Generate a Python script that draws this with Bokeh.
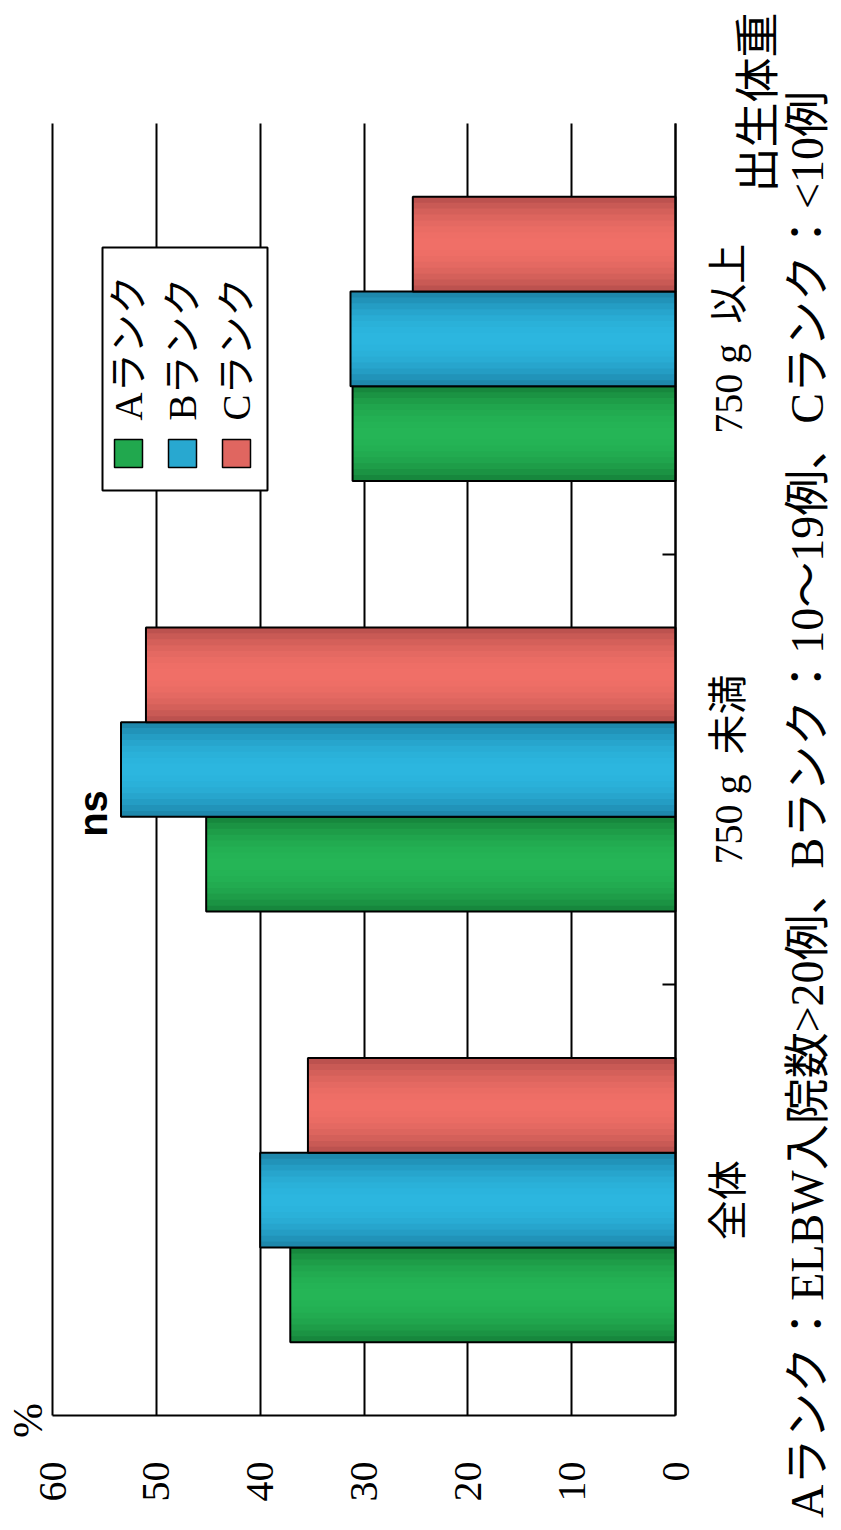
import math
from bokeh.plotting import figure
from bokeh.models import Range1d, FixedTicker, Label, BoxAnnotation, ColumnDataSource
from bokeh.core.properties import value
from bokeh.embed import file_html
from bokeh.resources import INLINE

# ---- data ----
categories = ["全体", "750 g\u2002未満", "750 g\u2002以上"]
series_names = ["Aランク", "Bランク", "Cランク"]
rank_a = [37.1, 45.2, 31.1]
rank_b = [40.0, 53.4, 31.3]
rank_c = [35.4, 51.0, 25.3]
value_ticks = [0, 10, 20, 30, 40, 50, 60]
axis_title = "出生体重"
unit_label = "%"
sig_label = "ns"
footnote = "Aランク：ELBW入院数>20例、Bランク：10〜19例、Cランク：<10例"

# ---- styles / layout ----
SERIF = "'Liberation Serif', 'Noto Sans CJK JP'"
CJK = "Noto Sans CJK JP"
colors = {
    "A": ("#157f38", "#25b556"),
    "B": ("#1b7fa3", "#2cb6df"),
    "C": ("#b24d4a", "#f06f67"),
}
bar_h = 0.22
offsets = [-bar_h, 0.0, bar_h]
W, H = 841, 1530
# pixel frame of the value axis (0 .. 60) and category band (0 .. n)
PX0, PX60 = 675, 52
PY0, PYTOP = 1415, 123
vmax = value_ticks[-1]
ncat = len(categories)
kx = (PX0 - PX60) / vmax          # px per value unit
ky = (PY0 - PYTOP) / ncat         # px per category unit


def dx(px):
    return (PX0 - px) / kx


def dy(py):
    return (PY0 - py) / ky


def mix(c1, c2, t):
    a = [int(c1[i:i + 2], 16) for i in (1, 3, 5)]
    b = [int(c2[i:i + 2], 16) for i in (1, 3, 5)]
    return "#" + "".join(f"{round(x + (y - x) * t):02x}" for x, y in zip(a, b))


p = figure(width=W, height=H, output_backend="svg", toolbar_location=None,
           x_range=Range1d(dx(0), dx(W)), y_range=Range1d(dy(H), dy(0)),
           y_axis_location="right",
           min_border_left=0, min_border_right=0, min_border_top=0, min_border_bottom=0)
p.outline_line_color = None
p.background_fill_color = "white"
p.border_fill_color = "white"
p.xgrid.visible = False
p.ygrid.visible = False

cat_pos = [i + 0.5 for i in range(ncat)]

n_layers = 8
for vals, key, off in zip([rank_a, rank_b, rank_c], ["A", "B", "C"], offsets):
    ys = [c + off for c in cat_pos]
    edge, light = colors[key]
    for k in range(n_layers):
        frac = 1.0 - k / n_layers
        t = math.sin((k + 0.5) / n_layers * math.pi / 2) ** 0.8
        p.hbar(y=ys, left=0, right=vals, height=bar_h * frac,
               fill_color=mix(edge, light, t), line_color=None)
    p.hbar(y=ys, left=0, right=vals, height=bar_h, fill_color=None,
           line_color="black", line_width=2)

# value axis along the bottom of the bars; its ticks, run upward, are the grid
xa = p.xaxis[0]
xa.fixed_location = 0
xa.bounds = (0, vmax)
xa.level = "underlay"
xa.ticker = FixedTicker(ticks=value_ticks)
xa.major_label_orientation = math.pi / 2
xa.major_label_text_font = SERIF
xa.major_label_text_font_size = "40px"
xa.major_label_text_color = "black"
xa.major_label_standoff = 46
xa.major_tick_in = PY0 - PYTOP
xa.major_tick_out = 0
xa.major_tick_line_color = "black"
xa.major_tick_line_width = 2
xa.minor_tick_line_color = None
xa.axis_line_color = "black"
xa.axis_line_width = 2

# category axis at value 0 with separator ticks between categories
ya = p.yaxis[0]
ya.fixed_location = 0
ya.bounds = (0, ncat)
ya.ticker = FixedTicker(ticks=[], minor_ticks=list(range(1, ncat)))
ya.major_tick_line_color = None
ya.minor_tick_in = 13
ya.minor_tick_out = 0
ya.minor_tick_line_color = "black"
ya.minor_tick_line_width = 2
ya.axis_line_color = "black"
ya.axis_line_width = 2

# category names, centred on each category
src = ColumnDataSource(dict(y=cat_pos, name=categories))
p.text(x=dx(728), y="y", text="name", source=src, angle=math.pi / 2,
       text_align="center", text_baseline="middle",
       text_font=value(SERIF), text_font_size="40px", text_color="black")

# legend (drawn rotated, like the reference)
p.add_layout(BoxAnnotation(left=dx(102), right=dx(267), bottom=dy(490), top=dy(247),
                           fill_color="white", fill_alpha=1.0,
                           line_color="black", line_alpha=1.0, line_width=2))
leg_px = [128, 182, 236]
for name, key, lx in zip(series_names, ["A", "B", "C"], leg_px):
    p.add_layout(BoxAnnotation(left=dx(lx - 14), right=dx(lx + 14), bottom=dy(467), top=dy(439),
                               fill_color=mix(colors[key][0], colors[key][1], 0.75), fill_alpha=1.0,
                               line_color="black", line_alpha=1.0, line_width=1.5))
    p.add_layout(Label(x=dx(lx), y=dy(420), text=name, angle=math.pi / 2,
                       text_align="left", text_baseline="middle",
                       text_font=SERIF, text_font_size="39px", text_color="black"))

# significance mark
p.add_layout(Label(x=dx(92), y=dy(813), text=sig_label, angle=math.pi / 2,
                   text_align="center", text_baseline="middle",
                   text_font="Liberation Sans", text_font_style="bold",
                   text_font_size="40px", text_color="black"))

# unit
p.add_layout(Label(x=dx(27), y=dy(1420), text=unit_label, angle=math.pi / 2,
                   text_align="center", text_baseline="middle",
                   text_font=SERIF, text_font_size="42px", text_color="black"))

# axis title
p.add_layout(Label(x=dx(754), y=dy(102), text=axis_title, angle=math.pi / 2,
                   text_align="center", text_baseline="middle",
                   text_font=CJK, text_font_size="45px", text_color="black"))

# footnote
p.add_layout(Label(x=dx(807), y=dy(804), text=footnote, angle=math.pi / 2,
                   text_align="center", text_baseline="middle",
                   text_font=SERIF, text_font_size="46px", text_color="black"))

open("out.html", "w").write(file_html(p, INLINE))
